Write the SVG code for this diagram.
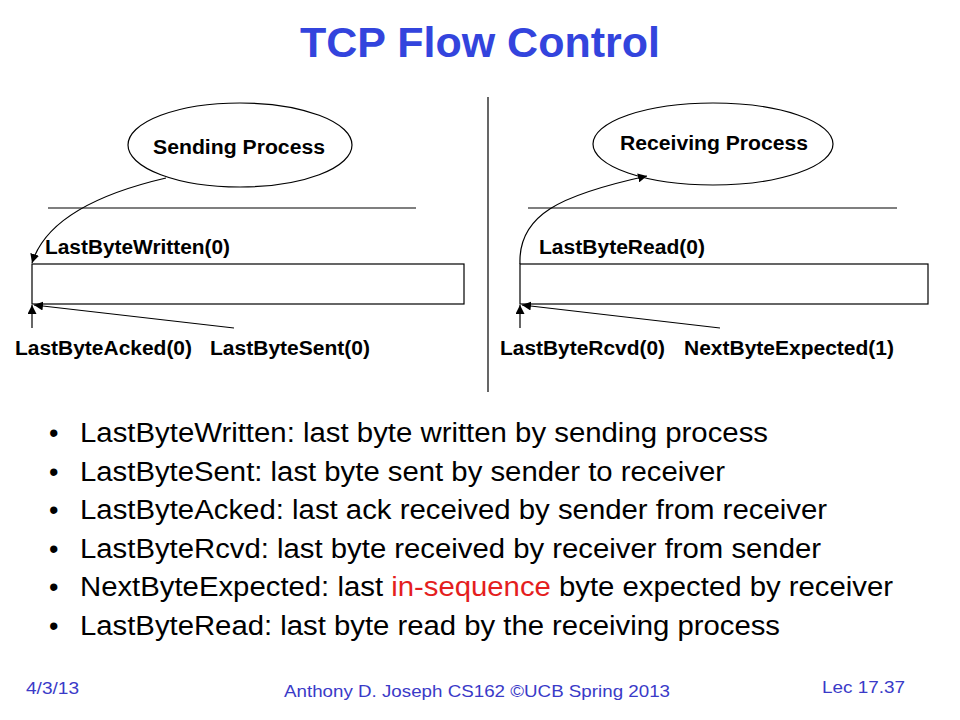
<svg xmlns="http://www.w3.org/2000/svg" width="960" height="720" viewBox="0 0 960 720">
<defs>
<marker id="ah" viewBox="0 0 10 10" refX="10" refY="5" markerWidth="9" markerHeight="9" markerUnits="userSpaceOnUse" orient="auto">
<path d="M0,0 L10,5 L0,10 z" fill="#000"/>
</marker>
<style>
.lbl{font-family:"Liberation Sans",Arial,sans-serif;font-weight:bold;font-size:20px;fill:#000}
.bul{font-family:"Liberation Sans",Arial,sans-serif;font-size:27px;fill:#000}
.ft{font-family:"Liberation Sans",Arial,sans-serif;font-size:17px;fill:#3a3ac8}
.ln{stroke:#000;stroke-width:1.2;fill:none}
.arr{stroke:#000;stroke-width:1.2;fill:none;marker-end:url(#ah)}
</style>
</defs>
<rect width="960" height="720" fill="#fff"/>
<text x="480" y="57" text-anchor="middle" font-family="'Liberation Sans',Arial,sans-serif" font-weight="bold" font-size="43" fill="#3344dd">TCP Flow Control</text>

<g id="divider"><line class="ln" x1="488" y1="97" x2="488" y2="392"/></g>

<g id="sending-process">
<ellipse cx="240" cy="145" rx="112" ry="42" fill="#fff" stroke="#000" stroke-width="1.2"/>
<text class="lbl" x="153" y="154" textLength="172" lengthAdjust="spacingAndGlyphs">Sending Process</text>
</g>
<g id="sender-line"><line class="ln" x1="48" y1="208" x2="416" y2="208"/></g>
<g id="sender-buffer">
<rect x="32" y="264" width="432" height="40" fill="#fff" stroke="#000" stroke-width="1.2"/>
</g>
<g id="lbl-lbw"><text class="lbl" x="45" y="254" textLength="185" lengthAdjust="spacingAndGlyphs">LastByteWritten(0)</text></g>
<g id="lbl-lba"><text class="lbl" x="15" y="355" textLength="177" lengthAdjust="spacingAndGlyphs">LastByteAcked(0)</text></g>
<g id="lbl-lbs"><text class="lbl" x="210" y="355" textLength="160" lengthAdjust="spacingAndGlyphs">LastByteSent(0)</text></g>

<g id="receiving-process">
<ellipse cx="713" cy="144" rx="120" ry="41" fill="#fff" stroke="#000" stroke-width="1.2"/>
<text class="lbl" x="620" y="150" textLength="188" lengthAdjust="spacingAndGlyphs">Receiving Process</text>
</g>
<g id="receiver-line"><line class="ln" x1="528" y1="208" x2="897" y2="208"/></g>
<g id="receiver-buffer">
<rect x="520" y="264" width="408" height="40" fill="#fff" stroke="#000" stroke-width="1.2"/>
</g>
<g id="lbl-lbr"><text class="lbl" x="539" y="254" textLength="166" lengthAdjust="spacingAndGlyphs">LastByteRead(0)</text></g>
<g id="lbl-lbrc"><text class="lbl" x="500" y="355" textLength="165" lengthAdjust="spacingAndGlyphs">LastByteRcvd(0)</text></g>
<g id="lbl-nbe"><text class="lbl" x="684" y="355" textLength="210" lengthAdjust="spacingAndGlyphs">NextByteExpected(1)</text></g>

<g id="connectors">
<path class="arr" d="M166,178 Q50,205 32,263"/>
<path class="arr" d="M32,328 L32,305"/>
<path class="arr" d="M234,328 L34,305"/>
<path class="arr" d="M520,264 C518,215 560,195 647,176"/>
<path class="arr" d="M520,328 L520,305"/>
<path class="arr" d="M720,328 L522,305"/>
</g>

<g id="bullets">
<g class="bul">
<text x="49" y="442">•</text><text x="80" y="442" textLength="688" lengthAdjust="spacingAndGlyphs">LastByteWritten: last byte written by sending process</text>
<text x="49" y="481">•</text><text x="80" y="481" textLength="645" lengthAdjust="spacingAndGlyphs">LastByteSent: last byte sent by sender to receiver</text>
<text x="49" y="519">•</text><text x="80" y="519" textLength="747" lengthAdjust="spacingAndGlyphs">LastByteAcked: last ack received by sender from receiver</text>
<text x="49" y="558">•</text><text x="80" y="558" textLength="741" lengthAdjust="spacingAndGlyphs">LastByteRcvd: last byte received by receiver from sender</text>
<text x="49" y="596">•</text><text x="80" y="596" textLength="813" lengthAdjust="spacingAndGlyphs">NextByteExpected: last <tspan fill="#e41e1e">in-sequence</tspan> byte expected by receiver</text>
<text x="49" y="635">•</text><text x="80" y="635" textLength="700" lengthAdjust="spacingAndGlyphs">LastByteRead: last byte read by the receiving process</text>
</g>
</g>

<g id="footer">
<text class="ft" x="26" y="694" font-size="20" textLength="53" lengthAdjust="spacingAndGlyphs">4/3/13</text>
<text class="ft" x="284" y="697" font-size="18" textLength="386" lengthAdjust="spacingAndGlyphs">Anthony D. Joseph CS162 ©UCB Spring 2013</text>
<text class="ft" x="822" y="693" font-size="18" textLength="83" lengthAdjust="spacingAndGlyphs">Lec 17.37</text>
</g>
</svg>
